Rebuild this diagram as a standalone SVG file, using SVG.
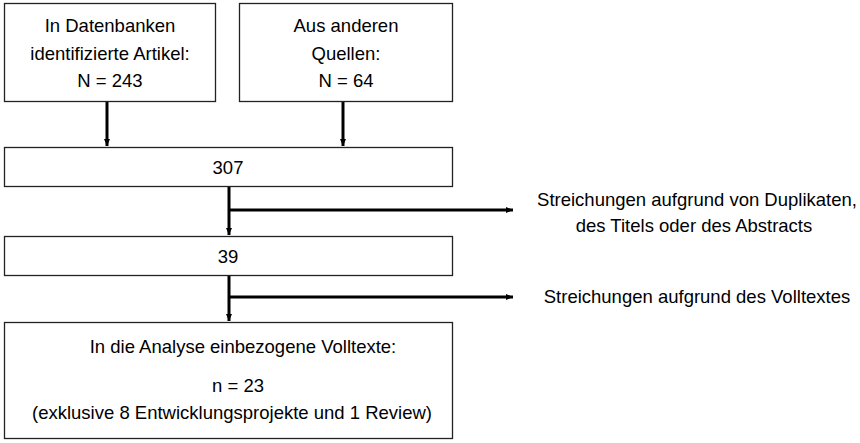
<svg xmlns="http://www.w3.org/2000/svg" width="860" height="443" viewBox="0 0 860 443">
<style>
.box{fill:#fff;stroke:#222;stroke-width:1.3}
.t{font-family:"Liberation Sans",Arial,sans-serif;font-size:18.5px;fill:#000;text-anchor:middle}
.c{stroke:#000;stroke-width:3;fill:none}
</style>
<defs>
<marker id="ah" markerUnits="userSpaceOnUse" markerWidth="8" markerHeight="8" viewBox="0 0 8 8" refX="7" refY="4" orient="auto">
<path d="M0,1 L7,4 L0,7 Z" fill="#000"/>
</marker>
</defs>
<rect width="860" height="443" fill="#fff"/>
<g id="connectors">
<line class="c" x1="107" y1="101" x2="107" y2="146" marker-end="url(#ah)"/>
<line class="c" x1="343" y1="101" x2="343" y2="146" marker-end="url(#ah)"/>
<line class="c" x1="229" y1="186" x2="229" y2="235" marker-end="url(#ah)"/>
<line class="c" x1="229" y1="210" x2="513" y2="210" marker-end="url(#ah)"/>
<line class="c" x1="229" y1="275" x2="229" y2="321" marker-end="url(#ah)"/>
<line class="c" x1="229" y1="297" x2="513" y2="297" marker-end="url(#ah)"/>
</g>
<g id="n1">
<rect class="box" x="4.5" y="3.5" width="211" height="98"/>
<text class="t" x="110" y="32">In Datenbanken</text>
<text class="t" x="110" y="60">identifizierte Artikel:</text>
<text class="t" x="110" y="87">N = 243</text>
</g>
<g id="n2">
<rect class="box" x="239.5" y="3.5" width="213" height="98"/>
<text class="t" x="346" y="32">Aus anderen</text>
<text class="t" x="346" y="60">Quellen:</text>
<text class="t" x="346" y="87">N = 64</text>
</g>
<g id="n3">
<rect class="box" x="4.5" y="147.5" width="448" height="39"/>
<text class="t" x="228" y="174">307</text>
</g>
<g id="n4">
<rect class="box" x="4.5" y="236.5" width="448" height="39"/>
<text class="t" x="228" y="263">39</text>
</g>
<g id="n5">
<rect class="box" x="4.5" y="322.5" width="448" height="116"/>
<text class="t" x="243" y="353">In die Analyse einbezogene Volltexte:</text>
<text class="t" x="238" y="392">n = 23</text>
<text class="t" x="232" y="419">(exklusive 8 Entwicklungsprojekte und 1 Review)</text>
</g>
<g id="n6">
<text class="t" x="697" y="206">Streichungen aufgrund von Duplikaten,</text>
<text class="t" x="694" y="232">des Titels oder des Abstracts</text>
</g>
<g id="n7">
<text class="t" x="697" y="303">Streichungen aufgrund des Volltextes</text>
</g>
</svg>
